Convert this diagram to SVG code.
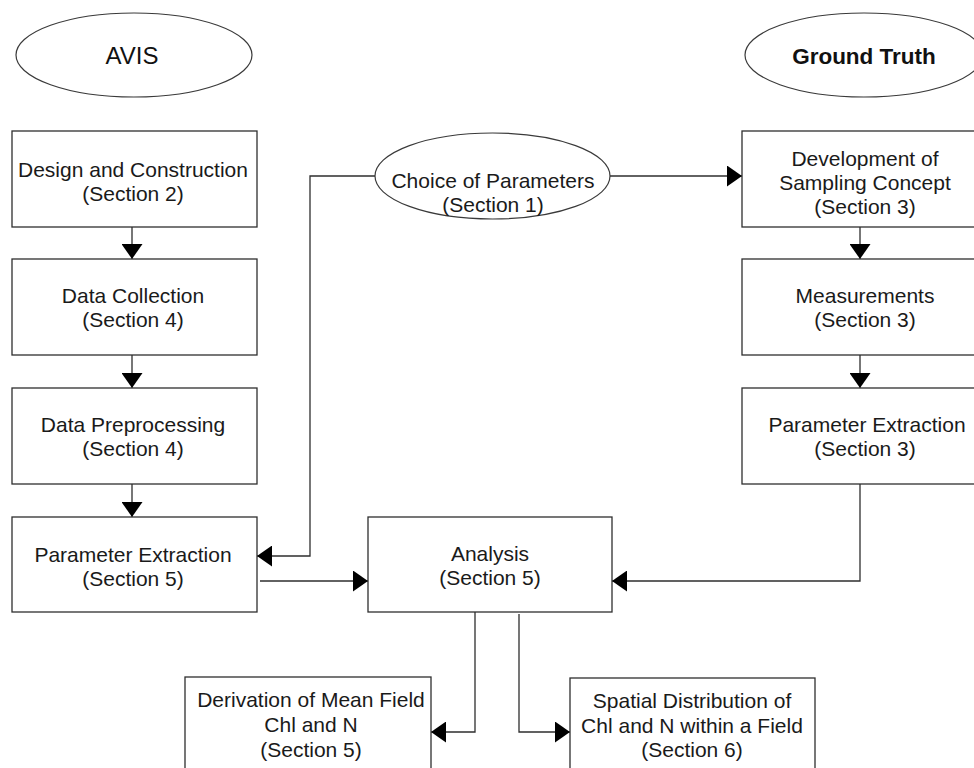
<svg xmlns="http://www.w3.org/2000/svg" width="974" height="768" viewBox="0 0 974 768">
<style>
.box{fill:#fff;stroke:#2e2e2e;stroke-width:1.3}
.ell{fill:#fff;stroke:#3a3a3a;stroke-width:1.2}
.t{font-family:"Liberation Sans",Arial,sans-serif;font-size:21px;fill:#1a1a1a;text-anchor:middle}
.big{font-family:"Liberation Sans",Arial,sans-serif;font-size:24px;fill:#111;text-anchor:middle}
.bold{font-family:"Liberation Sans",Arial,sans-serif;font-size:22.5px;font-weight:bold;fill:#111;text-anchor:middle}
.c{fill:none;stroke:#2e2e2e;stroke-width:1.3}
</style>
<defs>
<marker id="ah" markerUnits="userSpaceOnUse" markerWidth="15" markerHeight="21" viewBox="0 0 15 21" refX="15" refY="10.5" orient="auto">
<path d="M0,0 L15,10.5 L0,21 z" fill="#000"/>
</marker>
</defs>
<rect width="974" height="768" fill="#fff"/>

<g id="connectors">
<path class="c" d="M132,227 V259" marker-end="url(#ah)"/>
<path class="c" d="M132,355 V388" marker-end="url(#ah)"/>
<path class="c" d="M132,484 V517" marker-end="url(#ah)"/>
<path class="c" d="M860,227 V259" marker-end="url(#ah)"/>
<path class="c" d="M860,355 V388" marker-end="url(#ah)"/>
<path class="c" d="M375,176 H310 V556 H257" marker-end="url(#ah)"/>
<path class="c" d="M610,176 H742" marker-end="url(#ah)"/>
<path class="c" d="M260,581 H368" marker-end="url(#ah)"/>
<path class="c" d="M860,484 V581 H612" marker-end="url(#ah)"/>
<path class="c" d="M475,612 V732 H431" marker-end="url(#ah)"/>
<path class="c" d="M519,614 V732 H570" marker-end="url(#ah)"/>
</g>

<g id="avis">
<ellipse class="ell" cx="134" cy="55" rx="118" ry="42"/>
<text class="big" x="132" y="64">AVIS</text>
</g>
<g id="ground-truth">
<ellipse class="ell" cx="864" cy="55" rx="119" ry="42"/>
<text class="bold" x="864" y="64">Ground Truth</text>
</g>
<g id="choice">
<ellipse class="ell" cx="492.5" cy="176" rx="117.5" ry="43"/>
<text class="t" x="493" y="188">Choice of Parameters</text>
<text class="t" x="493" y="212">(Section 1)</text>
</g>

<g id="design">
<rect class="box" x="12" y="131" width="245" height="96"/>
<text class="t" x="133" y="177">Design and Construction</text>
<text class="t" x="133" y="200.5">(Section 2)</text>
</g>
<g id="data-collection">
<rect class="box" x="12" y="259" width="245" height="96"/>
<text class="t" x="133" y="302.5">Data Collection</text>
<text class="t" x="133" y="326.5">(Section 4)</text>
</g>
<g id="data-preprocessing">
<rect class="box" x="12" y="388" width="245" height="96"/>
<text class="t" x="133" y="432">Data Preprocessing</text>
<text class="t" x="133" y="456">(Section 4)</text>
</g>
<g id="param-extraction-avis">
<rect class="box" x="12" y="517" width="245" height="95"/>
<text class="t" x="133" y="562">Parameter Extraction</text>
<text class="t" x="133" y="586">(Section 5)</text>
</g>

<g id="sampling-concept">
<rect class="box" x="742" y="131" width="245" height="96"/>
<text class="t" x="865" y="166">Development of</text>
<text class="t" x="865" y="190">Sampling Concept</text>
<text class="t" x="865" y="213.5">(Section 3)</text>
</g>
<g id="measurements">
<rect class="box" x="742" y="259" width="245" height="96"/>
<text class="t" x="865" y="303">Measurements</text>
<text class="t" x="865" y="327">(Section 3)</text>
</g>
<g id="param-extraction-gt">
<rect class="box" x="742" y="388" width="245" height="96"/>
<text class="t" x="867" y="432">Parameter Extraction</text>
<text class="t" x="865" y="456">(Section 3)</text>
</g>

<g id="analysis">
<rect class="box" x="368" y="517" width="244" height="95"/>
<text class="t" x="490" y="561">Analysis</text>
<text class="t" x="490" y="585">(Section 5)</text>
</g>

<g id="mean-field">
<rect class="box" x="185" y="677" width="246" height="110"/>
<text class="t" x="311" y="707">Derivation of Mean Field</text>
<text class="t" x="311" y="732">Chl and N</text>
<text class="t" x="311" y="756.5">(Section 5)</text>
</g>
<g id="spatial-distribution">
<rect class="box" x="570" y="678" width="245" height="110"/>
<text class="t" x="692" y="708">Spatial Distribution of</text>
<text class="t" x="692" y="732.5">Chl and N within a Field</text>
<text class="t" x="692" y="756.5">(Section 6)</text>
</g>
</svg>
